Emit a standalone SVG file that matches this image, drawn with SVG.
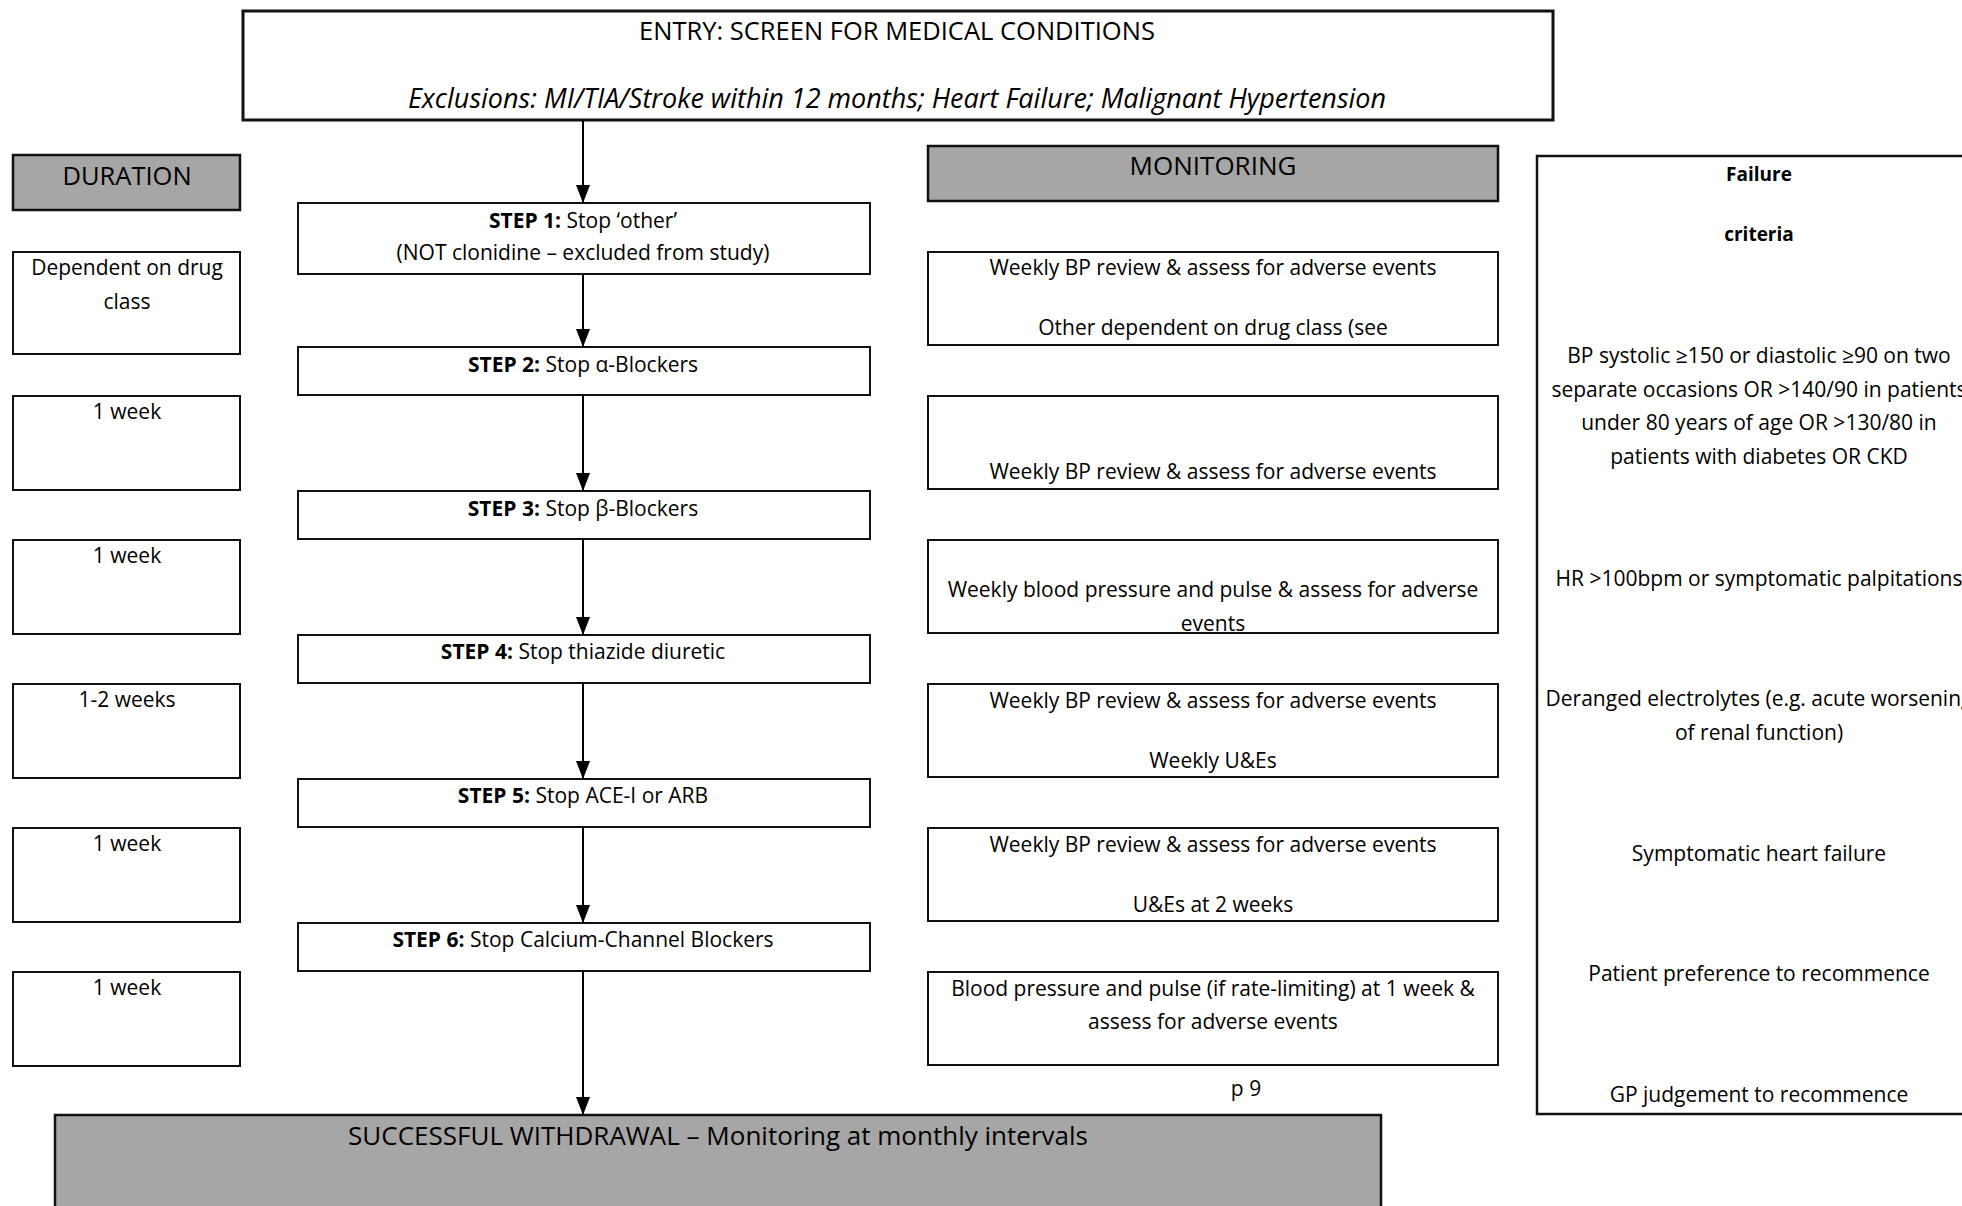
<svg xmlns="http://www.w3.org/2000/svg" width="1962" height="1206" viewBox="0 0 1962 1206">
<defs>
<marker id="ah" markerWidth="18" markerHeight="14" refX="18" refY="7" orient="auto" markerUnits="userSpaceOnUse" viewBox="0 0 18 14">
<path d="M0,0 L18,7 L0,14 Z" fill="#000"/>
</marker>
<style>
.box{fill:#fff;stroke:#111;stroke-width:2}
.gray{fill:#a6a6a6;stroke:#111;stroke-width:2.5}
.t{font-family:"Open Sans","Noto Sans","Liberation Sans",sans-serif;fill:#000;text-anchor:middle}
.s{font-size:21px}
.m{font-size:21px}
.h{font-size:26px}
.fh{font-size:19px;font-weight:bold}
.b{font-weight:bold}
.con{stroke:#000;stroke-width:2;fill:none}
</style>
</defs>
<rect width="1962" height="1206" fill="#fff"/>

<g id="entry">
<rect class="box" x="243" y="11" width="1310" height="109" style="stroke-width:3"/>
<text class="t" x="897" y="40" style="font-size:25.5px">ENTRY: SCREEN FOR MEDICAL CONDITIONS</text>
<text class="t" x="897" y="108" style="font-size:27px;font-style:italic">Exclusions: MI/TIA/Stroke within 12 months; Heart Failure; Malignant Hypertension</text>
</g>

<g id="duration-header">
<rect class="gray" x="13" y="155" width="227" height="55"/>
<text class="t h" x="127" y="185" style="font-size:25.5px">DURATION</text>
</g>

<g id="monitoring-header">
<rect class="gray" x="928" y="146" width="570" height="55"/>
<text class="t h" x="1213" y="175">MONITORING</text>
</g>

<g id="step1">
<rect class="box" x="298" y="203" width="572" height="71"/>
<text class="t s" x="583" y="228"><tspan class="b">STEP 1:</tspan> Stop ‘other’</text>
<text class="t s" x="583" y="260">(NOT clonidine – excluded from study)</text>
</g>
<g id="step2">
<rect class="box" x="298" y="347" width="572" height="48"/>
<text class="t s" x="583" y="372"><tspan class="b">STEP 2:</tspan> Stop α-Blockers</text>
</g>
<g id="step3">
<rect class="box" x="298" y="491" width="572" height="48"/>
<text class="t s" x="583" y="516"><tspan class="b">STEP 3:</tspan> Stop β-Blockers</text>
</g>
<g id="step4">
<rect class="box" x="298" y="635" width="572" height="48"/>
<text class="t s" x="583" y="659"><tspan class="b">STEP 4:</tspan> Stop thiazide diuretic</text>
</g>
<g id="step5">
<rect class="box" x="298" y="779" width="572" height="48"/>
<text class="t s" x="583" y="803"><tspan class="b">STEP 5:</tspan> Stop ACE-I or ARB</text>
</g>
<g id="step6">
<rect class="box" x="298" y="923" width="572" height="48"/>
<text class="t s" x="583" y="947"><tspan class="b">STEP 6:</tspan> Stop Calcium-Channel Blockers</text>
</g>

<g id="dur1">
<rect class="box" x="13" y="252" width="227" height="102"/>
<text class="t s" x="127" y="275">Dependent on drug</text>
<text class="t s" x="127" y="309">class</text>
</g>
<g id="dur2">
<rect class="box" x="13" y="396" width="227" height="94"/>
<text class="t s" x="127" y="419">1 week</text>
</g>
<g id="dur3">
<rect class="box" x="13" y="540" width="227" height="94"/>
<text class="t s" x="127" y="563">1 week</text>
</g>
<g id="dur4">
<rect class="box" x="13" y="684" width="227" height="94"/>
<text class="t s" x="127" y="707">1-2 weeks</text>
</g>
<g id="dur5">
<rect class="box" x="13" y="828" width="227" height="94"/>
<text class="t s" x="127" y="851">1 week</text>
</g>
<g id="dur6">
<rect class="box" x="13" y="972" width="227" height="94"/>
<text class="t s" x="127" y="995">1 week</text>
</g>

<g id="mon1">
<rect class="box" x="928" y="252" width="570" height="93"/>
<text class="t m" x="1213" y="275">Weekly BP review &amp; assess for adverse events</text>
<text class="t m" x="1213" y="335">Other dependent on drug class (see</text>
</g>
<g id="mon2">
<rect class="box" x="928" y="396" width="570" height="93"/>
<text class="t m" x="1213" y="479">Weekly BP review &amp; assess for adverse events</text>
</g>
<g id="mon3">
<rect class="box" x="928" y="540" width="570" height="93"/>
<text class="t m" x="1213" y="597">Weekly blood pressure and pulse &amp; assess for adverse</text>
<text class="t m" x="1213" y="631">events</text>
</g>
<g id="mon4">
<rect class="box" x="928" y="684" width="570" height="93"/>
<text class="t m" x="1213" y="708">Weekly BP review &amp; assess for adverse events</text>
<text class="t m" x="1213" y="768">Weekly U&amp;Es</text>
</g>
<g id="mon5">
<rect class="box" x="928" y="828" width="570" height="93"/>
<text class="t m" x="1213" y="852">Weekly BP review &amp; assess for adverse events</text>
<text class="t m" x="1213" y="912">U&amp;Es at 2 weeks</text>
</g>
<g id="mon6">
<rect class="box" x="928" y="972" width="570" height="93"/>
<text class="t m" x="1213" y="996">Blood pressure and pulse (if rate-limiting) at 1 week &amp;</text>
<text class="t m" x="1213" y="1029">assess for adverse events</text>
</g>

<text class="t m" x="1246" y="1096">p 9</text>

<g id="failure">
<rect class="box" x="1537" y="156" width="440" height="958" style="stroke-width:2.5"/>
<text class="t fh" x="1759" y="181">Failure</text>
<text class="t fh" x="1759" y="241">criteria</text>
<text class="t m" x="1759" y="363">BP systolic ≥150 or diastolic ≥90 on two</text>
<text class="t m" x="1759" y="397">separate occasions OR &gt;140/90 in patients</text>
<text class="t m" x="1759" y="430">under 80 years of age OR &gt;130/80 in</text>
<text class="t m" x="1759" y="464">patients with diabetes OR CKD</text>
<text class="t m" x="1759" y="586">HR &gt;100bpm or symptomatic palpitations</text>
<text class="t m" x="1759" y="706">Deranged electrolytes (e.g. acute worsening</text>
<text class="t m" x="1759" y="740">of renal function)</text>
<text class="t m" x="1759" y="861">Symptomatic heart failure</text>
<text class="t m" x="1759" y="981">Patient preference to recommence</text>
<text class="t m" x="1759" y="1102">GP judgement to recommence</text>
</g>

<g id="final">
<rect class="gray" x="55" y="1115" width="1326" height="100"/>
<text class="t h" x="718" y="1145">SUCCESSFUL WITHDRAWAL – Monitoring at monthly intervals</text>
</g>

<g id="connectors">
<line class="con" x1="583" y1="120" x2="583" y2="203" marker-end="url(#ah)"/>
<line class="con" x1="583" y1="274" x2="583" y2="347" marker-end="url(#ah)"/>
<line class="con" x1="583" y1="395" x2="583" y2="491" marker-end="url(#ah)"/>
<line class="con" x1="583" y1="539" x2="583" y2="635" marker-end="url(#ah)"/>
<line class="con" x1="583" y1="683" x2="583" y2="779" marker-end="url(#ah)"/>
<line class="con" x1="583" y1="827" x2="583" y2="923" marker-end="url(#ah)"/>
<line class="con" x1="583" y1="971" x2="583" y2="1115" marker-end="url(#ah)"/>
</g>
</svg>
